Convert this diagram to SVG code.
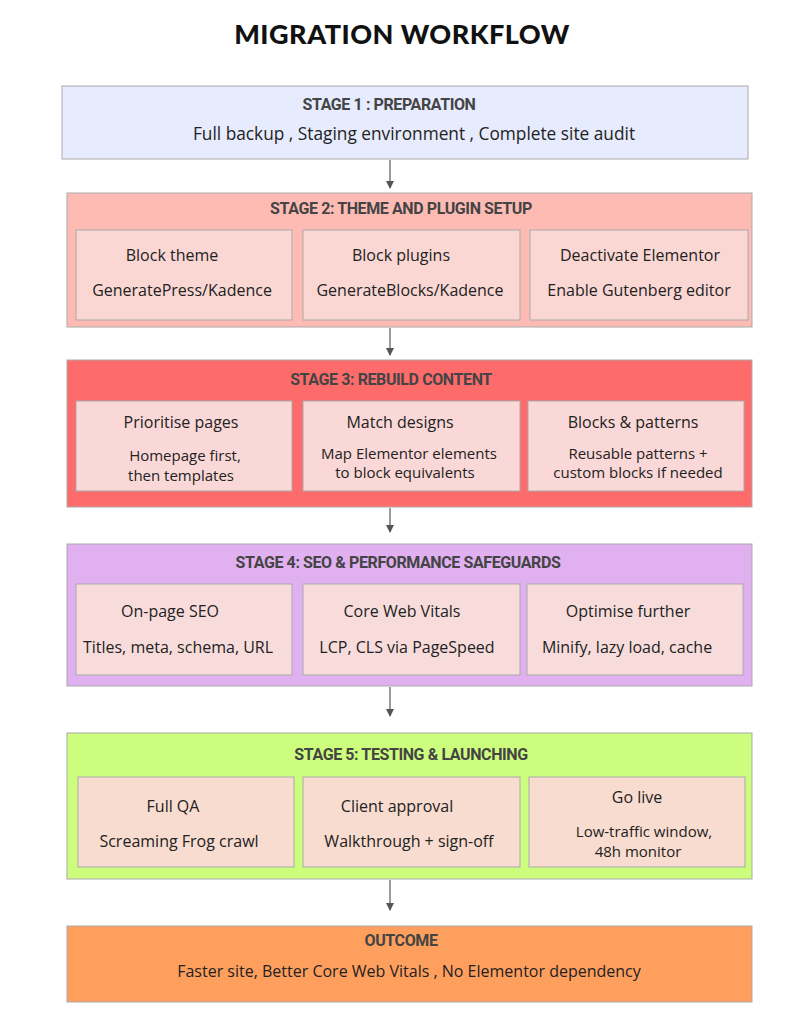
<svg xmlns="http://www.w3.org/2000/svg" width="809" height="1024" viewBox="0 0 809 1024">
<defs>
<marker id="ah" markerWidth="8" markerHeight="8" refX="7" refY="4" orient="auto" markerUnits="userSpaceOnUse"><path d="M0,0 L8,4 L0,8 z" fill="#555"/></marker>
<style>
.stage{stroke:#aaa;stroke-width:1}
.sub{stroke:#aaa;stroke-width:1}
.hd{font-family:"Roboto","Liberation Sans",sans-serif;font-weight:bold;font-size:16px;fill:#444;text-anchor:middle;letter-spacing:-0.4px}
.tx{font-family:"Open Sans","Liberation Sans",sans-serif;font-size:16px;fill:#222;text-anchor:middle}
.sm{font-size:15px}
.big{font-size:17.3px}
.con{stroke:#666;stroke-width:1.3;fill:none;marker-end:url(#ah)}
</style>
</defs>
<rect width="809" height="1024" fill="#fff"/>
<text x="402" y="44" text-anchor="middle" font-family="'Lato','Liberation Sans',sans-serif" font-weight="900" font-size="27" fill="#111" letter-spacing="0.5">MIGRATION WORKFLOW</text>
<g id="connectors">
<line class="con" x1="390" y1="160" x2="390" y2="188"/>
<line class="con" x1="390" y1="328" x2="390" y2="355"/>
<line class="con" x1="390" y1="508" x2="390" y2="532"/>
<line class="con" x1="390" y1="687" x2="390" y2="716"/>
<line class="con" x1="390" y1="880" x2="390" y2="910"/>
</g>
<g id="stage1">
<rect class="stage" x="62" y="86" width="686" height="73" fill="#e6ebfd"/>
<text class="hd" x="389" y="110">STAGE 1 : PREPARATION</text>
<text class="tx big" x="414" y="140">Full backup , Staging environment , Complete site audit</text>
</g>
<g id="stage2">
<rect class="stage" x="67" y="193" width="685" height="134" fill="#fdbbb4"/>
<text class="hd" x="401" y="214">STAGE 2: THEME AND PLUGIN SETUP</text>
<rect class="sub" x="76" y="230" width="216" height="90" fill="#fbd7d4"/>
<text class="tx" x="172" y="261">Block theme</text>
<text class="tx" x="182" y="296">GeneratePress/Kadence</text>
<rect class="sub" x="303" y="230" width="217" height="90" fill="#fbd7d4"/>
<text class="tx" x="401" y="261">Block plugins</text>
<text class="tx" x="410" y="296">GenerateBlocks/Kadence</text>
<rect class="sub" x="530" y="230" width="218" height="90" fill="#fbd7d4"/>
<text class="tx" x="640" y="261">Deactivate Elementor</text>
<text class="tx" x="639" y="296">Enable Gutenberg editor</text>
</g>
<g id="stage3">
<rect class="stage" x="67" y="360" width="685" height="147" fill="#fe6b6b"/>
<text class="hd" x="391" y="385">STAGE 3: REBUILD CONTENT</text>
<rect class="sub" x="76" y="401" width="216" height="90" fill="#fad8d7"/>
<text class="tx" x="181" y="428">Prioritise pages</text>
<text class="tx sm" x="185" y="461">Homepage first,</text>
<text class="tx sm" x="181" y="481">then templates</text>
<rect class="sub" x="303" y="401" width="217" height="90" fill="#fad8d7"/>
<text class="tx" x="400" y="428">Match designs</text>
<text class="tx sm" x="409" y="459">Map Elementor elements</text>
<text class="tx sm" x="405" y="478">to block equivalents</text>
<rect class="sub" x="528" y="401" width="216" height="90" fill="#fad8d7"/>
<text class="tx" x="633" y="428">Blocks &amp; patterns</text>
<text class="tx sm" x="638" y="459">Reusable patterns +</text>
<text class="tx sm" x="638" y="478">custom blocks if needed</text>
</g>
<g id="stage4">
<rect class="stage" x="67" y="544" width="685" height="142" fill="#e0b0f0"/>
<text class="hd" x="398" y="568">STAGE 4: SEO &amp; PERFORMANCE SAFEGUARDS</text>
<rect class="sub" x="76" y="584" width="216" height="91" fill="#f8dcdb"/>
<text class="tx" x="170" y="617">On-page SEO</text>
<text class="tx" x="178" y="653">Titles, meta, schema, URL</text>
<rect class="sub" x="303" y="584" width="217" height="91" fill="#f8dcdb"/>
<text class="tx" x="402" y="617">Core Web Vitals</text>
<text class="tx" x="407" y="653">LCP, CLS via PageSpeed</text>
<rect class="sub" x="527" y="584" width="216" height="91" fill="#f8dcdb"/>
<text class="tx" x="628" y="617">Optimise further</text>
<text class="tx" x="627" y="653">Minify, lazy load, cache</text>
</g>
<g id="stage5">
<rect class="stage" x="67" y="733" width="685" height="146" fill="#cdfd7c"/>
<text class="hd" x="411" y="760">STAGE 5: TESTING &amp; LAUNCHING</text>
<rect class="sub" x="78" y="777" width="216" height="90" fill="#f8dccf"/>
<text class="tx" x="173" y="812">Full QA</text>
<text class="tx" x="179" y="847">Screaming Frog crawl</text>
<rect class="sub" x="303" y="777" width="217" height="90" fill="#f8dccf"/>
<text class="tx" x="397" y="812">Client approval</text>
<text class="tx" x="409" y="847">Walkthrough + sign-off</text>
<rect class="sub" x="529" y="777" width="216" height="90" fill="#f8dccf"/>
<text class="tx" x="637" y="803">Go live</text>
<text class="tx sm" x="644" y="837">Low-traffic window,</text>
<text class="tx sm" x="638" y="857">48h monitor</text>
</g>
<g id="outcome">
<rect class="stage" x="67" y="926" width="685" height="76" fill="#ff9f5d"/>
<text class="hd" x="401" y="946">OUTCOME</text>
<text class="tx" x="409" y="977" font-size="18.5">Faster site, Better Core Web Vitals , No Elementor dependency</text>
</g>
</svg>
